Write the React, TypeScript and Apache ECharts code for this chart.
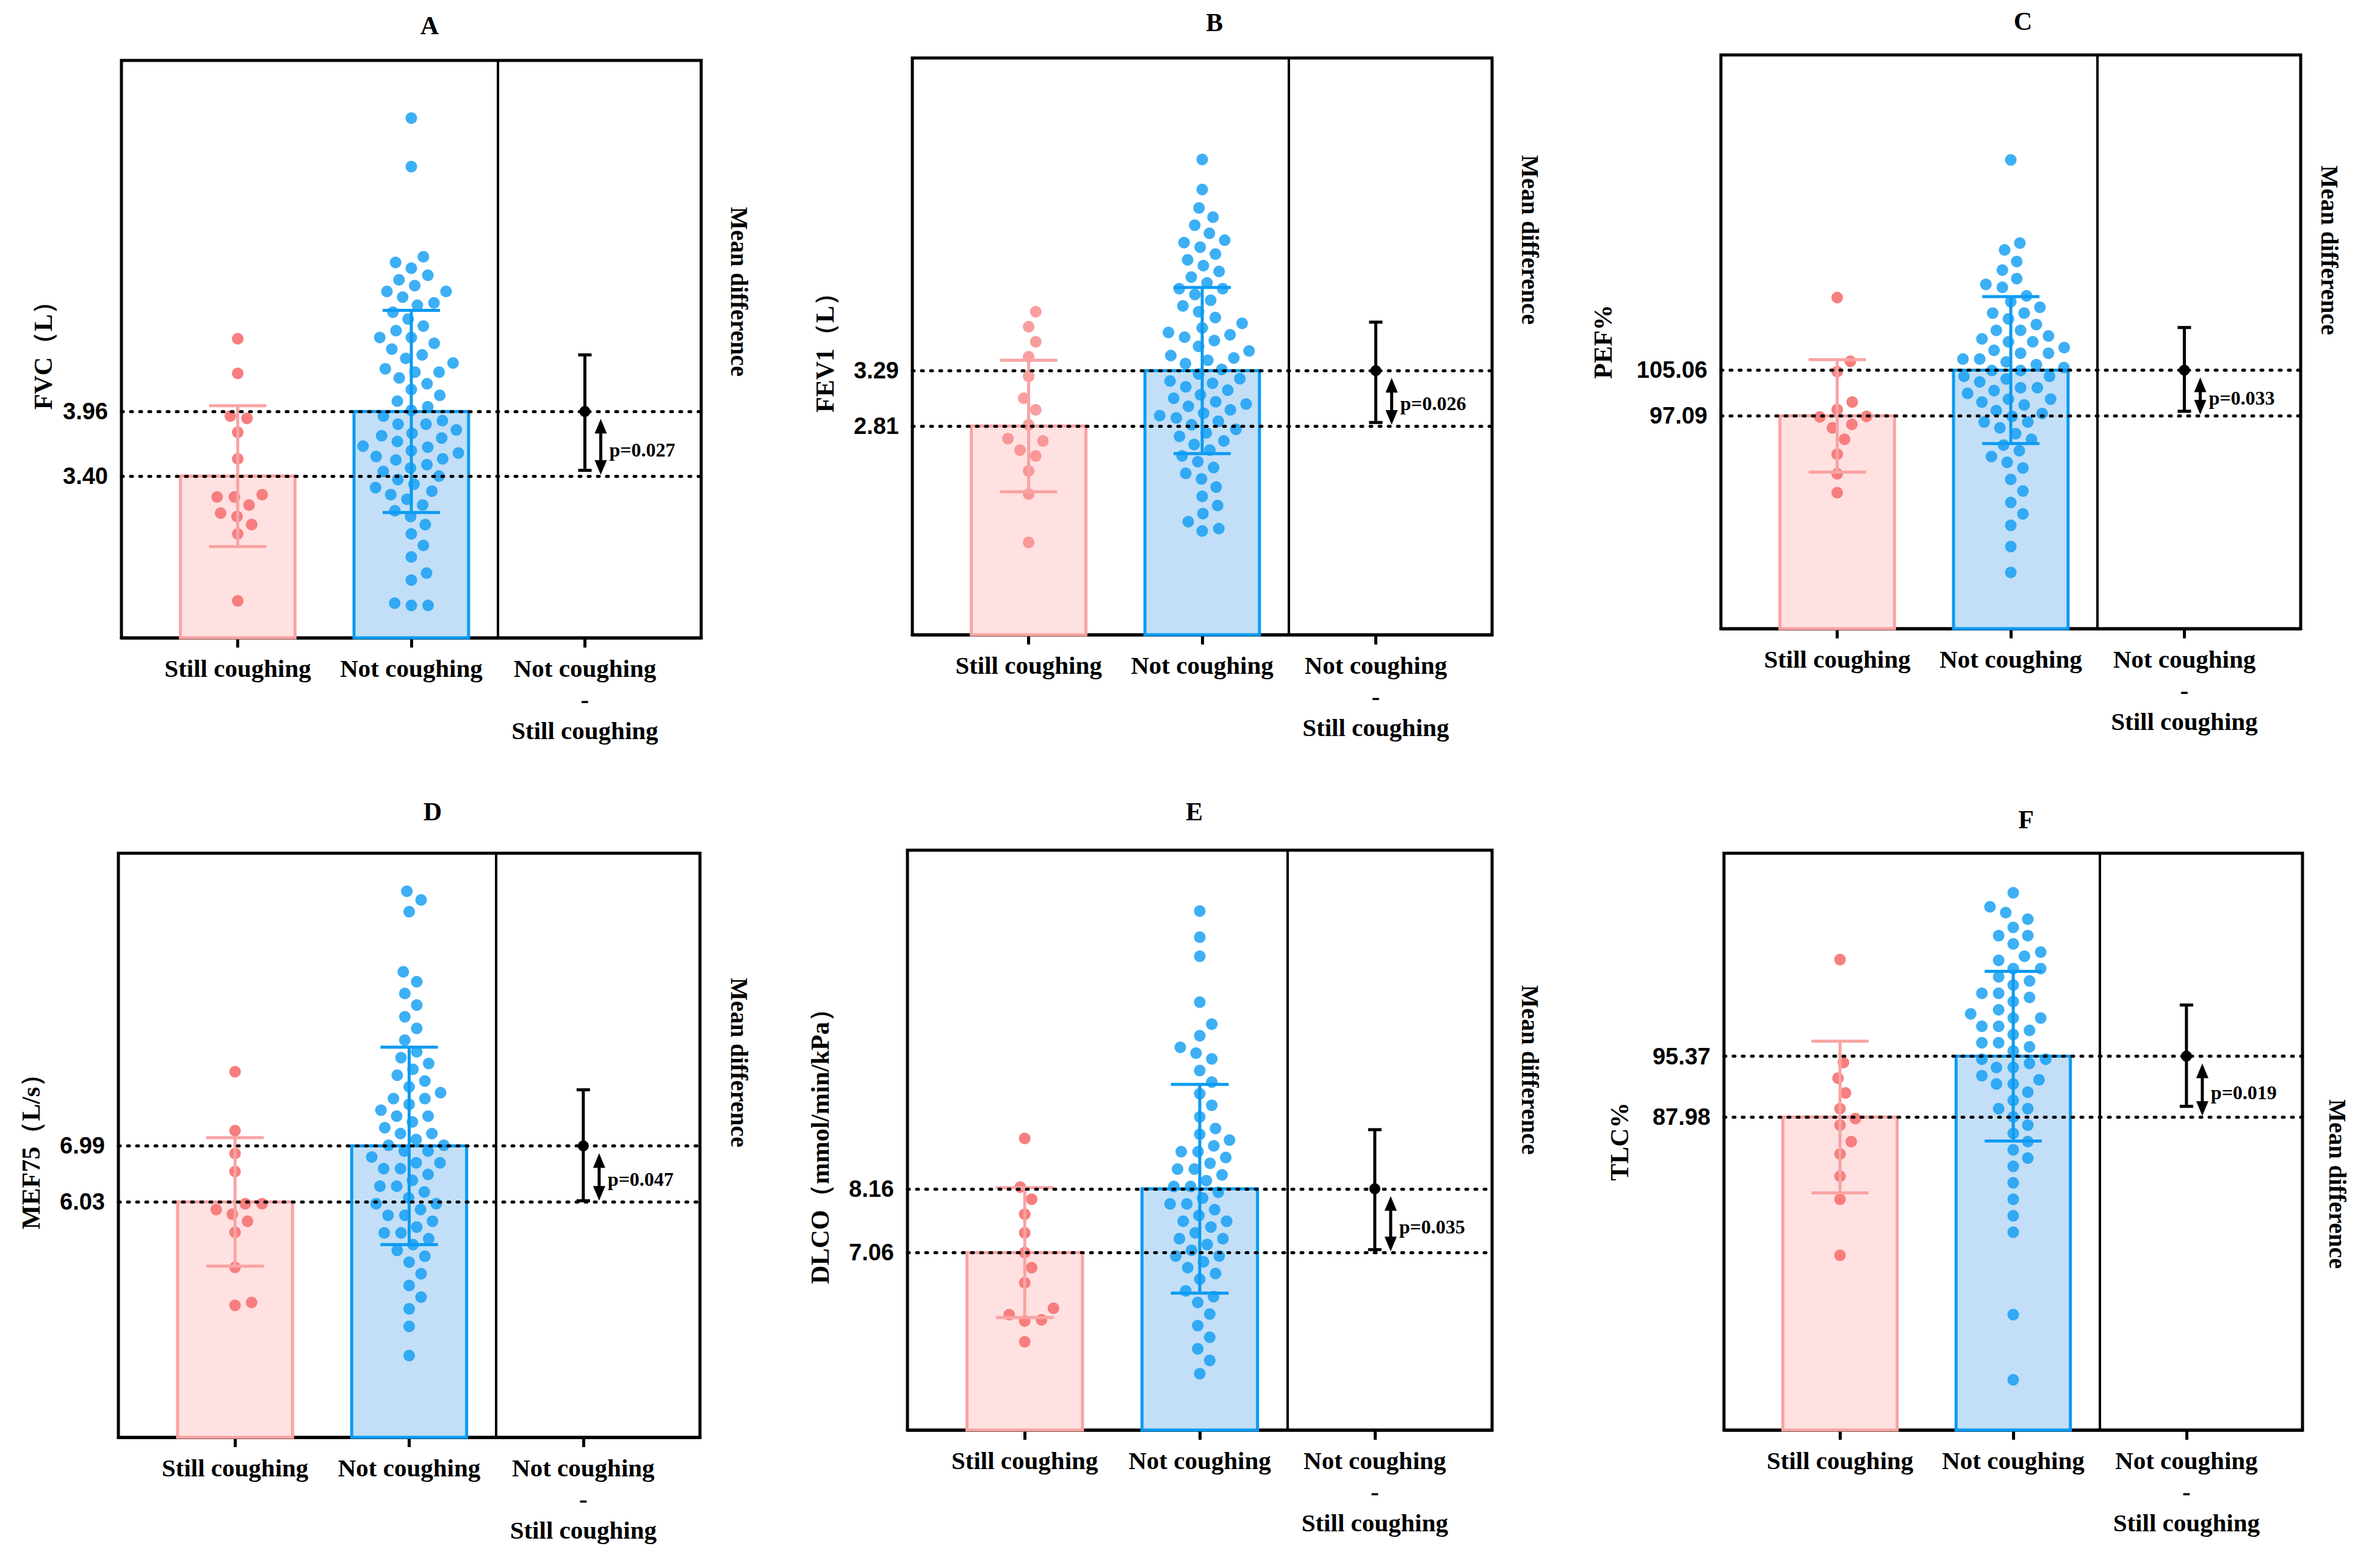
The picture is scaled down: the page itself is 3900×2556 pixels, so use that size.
import { useEffect, useRef } from 'react';
import * as echarts from 'echarts';

const PANELS = ['A', 'B', 'C', 'D', 'E', 'F'];
const Y_NAMES = ['FVC（L）', 'FEV1（L）', 'PEF%', 'MEF75（L/s）', 'DLCO（mmol/min/kPa）', 'TLC%'];
const Y_MIN = [2, 1, 60, 2, 4, 50];
const Y_MAX = [7, 6, 160, 12, 14, 120];
const STILL_MEAN = [3.4, 2.81, 97.09, 6.03, 7.06, 87.98];
const NOT_MEAN = [3.96, 3.29, 105.06, 6.99, 8.16, 95.37];
const STILL_SD = [0.61, 0.57, 9.8, 1.1, 1.12, 9.2];
const NOT_SD = [0.875, 0.72, 12.8, 1.69, 1.8, 10.3];
const MEAN_DIFF = ['0.56', '0.48', '7.96', '0.97', '1.096', '7.38'];
const CI_LO = [0.05, 0.03, 0.8, 0.02, 0.05, 1.3];
const CI_HI = [1.05, 0.9, 15.4, 1.92, 2.12, 13.6];
const P_VALUES = ['p=0.027', 'p=0.026', 'p=0.033', 'p=0.047', 'p=0.035', 'p=0.019'];
const CATEGORIES = ['Still coughing', 'Not coughing', 'Not coughing\n-\nStill coughing'];

const STILL_POINTS = [
  [4.59, 4.29, 3.92, 3.9, 3.78, 3.55, 3.22, 3.22, 3.24, 3.15, 3.08, 3.05, 2.98, 2.9, 2.32],
  [3.8, 3.67, 3.54, 3.41, 3.24, 3.05, 2.95, 2.82, 2.7, 2.68, 2.6, 2.55, 2.42, 2.22, 1.8],
  [117.7, 106.6, 104.8, 99.5, 98.2, 97, 96.9, 95.6, 95, 93, 90.4, 87, 83.7],
  [8.26, 7.25, 6.86, 6.55, 6.0, 6.0, 5.9, 5.82, 5.7, 5.51, 4.91, 4.31, 4.26],
  [9.03, 8.19, 7.98, 7.72, 7.4, 7.06, 6.8, 6.54, 6.1, 5.99, 5.9, 5.88, 5.52],
  [107.1, 94.6, 92.7, 90.9, 89, 87.8, 87, 85, 83.5, 80.8, 78, 71.2],
];

const NOT_POINTS = [
  [6.5, 6.08, 5.3, 5.25, 5.2, 5.14, 5.1, 5.05, 5.0, 5.0, 4.95, 4.9, 4.88, 4.82, 4.76, 4.7, 4.66, 4.6, 4.6, 4.55, 4.5, 4.45,
    4.42, 4.38, 4.33, 4.3, 4.3, 4.25, 4.2, 4.15, 4.1, 4.05, 4.0, 3.97, 3.92, 3.88, 3.85, 3.85, 3.8, 3.77, 3.75, 3.73, 3.7,
    3.66, 3.65, 3.62, 3.6, 3.57, 3.55, 3.54, 3.5, 3.47, 3.44, 3.4, 3.37, 3.33, 3.3, 3.27, 3.24, 3.2, 3.15, 3.1, 3.05,
    2.98, 2.9, 2.8, 2.7, 2.56, 2.5, 2.3, 2.28, 2.28],
  [5.12, 4.86, 4.7, 4.62, 4.55, 4.48, 4.42, 4.4, 4.36, 4.3, 4.25, 4.2, 4.15, 4.1, 4.05, 4.0, 4.0, 3.95, 3.9, 3.85, 3.8,
    3.75, 3.7, 3.66, 3.62, 3.6, 3.58, 3.55, 3.5, 3.46, 3.42, 3.4, 3.38, 3.35, 3.3, 3.26, 3.22, 3.2, 3.18, 3.15, 3.12, 3.08,
    3.05, 3.02, 3.0, 2.98, 2.95, 2.92, 2.9, 2.88, 2.85, 2.82, 2.78, 2.75, 2.72, 2.68, 2.65, 2.6, 2.55, 2.5, 2.45, 2.4,
    2.35, 2.28, 2.2, 2.12, 2.05, 1.98, 1.92, 1.9],
  [141.7, 127.2, 126, 124, 122.5, 121, 120, 119.5, 118, 117, 116, 115, 115, 114, 113, 112, 112, 111, 110.5, 110, 110,
    109, 108.5, 108, 108, 107, 107, 106.5, 106, 105.5, 105, 105, 104, 104, 103.5, 103, 102, 102, 101.5, 101, 100, 100,
    99.5, 99, 98, 97.5, 97, 96, 96, 95, 94, 93, 92, 91, 90, 89, 88, 86, 84, 82, 80, 78, 74.3, 69.8],
  [11.35, 11.2, 11.0, 9.97, 9.8, 9.6, 9.4, 9.2, 9.0, 8.8, 8.6, 8.5, 8.4, 8.3, 8.2, 8.1, 8.0, 7.9, 7.8, 7.8, 7.7, 7.6,
    7.5, 7.5, 7.4, 7.3, 7.2, 7.2, 7.1, 7.0, 7.0, 6.9, 6.9, 6.8, 6.7, 6.7, 6.6, 6.6, 6.5, 6.4, 6.3, 6.3, 6.2, 6.1, 6.0,
    6.0, 5.9, 5.8, 5.8, 5.7, 5.6, 5.5, 5.5, 5.4, 5.3, 5.2, 5.1, 5.0, 4.8, 4.6, 4.4, 4.2, 3.9, 3.4],
  [12.95, 12.5, 12.17, 11.38, 11.0, 10.8, 10.6, 10.5, 10.4, 10.2, 10.0, 9.8, 9.6, 9.4, 9.2, 9.1, 9.0, 8.9, 8.8, 8.8, 8.7,
    8.6, 8.5, 8.5, 8.4, 8.3, 8.2, 8.2, 8.1, 8.0, 7.9, 7.9, 7.8, 7.7, 7.6, 7.6, 7.5, 7.4, 7.3, 7.3, 7.2, 7.1, 7.0, 7.0,
    6.9, 6.8, 6.7, 6.6, 6.4, 6.3, 6.2, 6.0, 5.8, 5.6, 5.4, 5.2, 4.97],
  [115.2, 113.5, 112.8, 112, 111, 110, 110, 109, 108, 107.5, 107, 106, 106, 105, 104.5, 104, 103, 103, 102.5, 102, 101,
    100.5, 100, 100, 99, 99, 98.5, 98, 97, 97, 96.5, 96, 95, 95, 94.5, 94, 94, 93, 92.5, 92, 92, 91, 90, 89, 89, 88, 87,
    86, 85, 84, 83, 82, 80, 78, 76, 74, 64, 56.1],
];

// plot boxes in page pixels: left, top, right, bottom
const BOXES = [
  [199, 99, 1149, 1045],
  [1495, 95, 2445, 1040],
  [2820, 90, 3770, 1030],
  [194, 1398, 1147, 2355],
  [1487, 1393, 2445, 2343],
  [2825, 1398, 3773, 2343],
];
const NAME_GAP = [107, 122, 172, 122, 122, 150];
const TITLE_POS = [[704, 42], [1990, 37], [3315, 35], [709, 1330], [1957, 1330], [3320, 1343]];
const MD_POS = [[1211, 478], [2507, 393], [3817, 410], [1211, 1741], [2507, 1753], [3830, 1940]];

const X_MIN = 0.33;
const X_MAX = 3.67;
const DOT = 19;
const GAP = 27;
const STILL_COLOR = '#F77E7E';
const NOT_COLOR = '#0C9BF2';
const SERIF = '"Liberation Serif", "Times New Roman", serif';
const SANS = '"Liberation Sans", Arial, sans-serif';

function swarm(values: number[], center: number, i: number) {
  const [l, t, r, b] = BOXES[i];
  const pxPerVal = (b - t) / (Y_MAX[i] - Y_MIN[i]);
  const unitPerPx = (X_MAX - X_MIN) / (r - l);
  const placed: { x: number; y: number }[] = [];
  const out: number[][] = [];
  [...values].sort((a, c) => a - c).forEach((v) => {
    const y = v * pxPerVal;
    const near = placed.filter((p) => Math.abs(p.y - y) < GAP);
    const cands = [0];
    near.forEach((p) => {
      const dx = Math.sqrt(GAP * GAP - (p.y - y) ** 2) + 0.5;
      cands.push(p.x + dx, p.x - dx);
    });
    cands.sort((a, c) => Math.abs(a) - Math.abs(c));
    const x = cands.find((cx) => near.every((p) => (p.x - cx) ** 2 + (p.y - y) ** 2 >= GAP * GAP - 1)) ?? 0;
    placed.push({ x, y });
    out.push([center + x * unitPerPx, v]);
  });
  return out;
}

export default function App() {
  const chartRef = useRef<HTMLDivElement>(null);

  useEffect(() => {
    if (!chartRef.current) return;
    document.body.style.margin = '0';
    const chart = echarts.init(chartRef.current, undefined, { renderer: 'svg' });

    const grid: any[] = [];
    const xAxis: any[] = [];
    const yAxis: any[] = [];
    const series: any[] = [];
    const graphic: any[] = [];

    PANELS.forEach((p, i) => {
      const [l, t, r, b] = BOXES[i];
      grid.push({
        left: l, top: t, width: r - l, height: b - t,
        show: true, borderColor: '#000', borderWidth: 5, backgroundColor: 'transparent',
      });
      xAxis.push({
        type: 'value', gridIndex: i, min: X_MIN, max: X_MAX,
        splitLine: { show: false },
        axisLine: { lineStyle: { color: '#000', width: 5 } },
        axisTick: { customValues: [1, 2, 3], length: 16, lineStyle: { color: '#000', width: 5 } },
        axisLabel: {
          customValues: [1, 2, 3],
          formatter: (v: number) => CATEGORIES[Math.round(v) - 1] ?? '',
          fontFamily: SERIF, fontWeight: 'bold', fontSize: 41, color: '#000',
          lineHeight: 51, margin: 24, verticalAlign: 'top',
        },
      });
      yAxis.push({
        type: 'value', gridIndex: i, min: Y_MIN[i], max: Y_MAX[i],
        splitLine: { show: false }, axisTick: { show: false }, axisLabel: { show: false },
        axisLine: { show: false },
        name: Y_NAMES[i], nameLocation: 'middle', nameGap: NAME_GAP[i],
        nameTextStyle: { fontFamily: SERIF, fontWeight: 'bold', fontSize: 42, color: '#000' },
      });

      const lblStyle = { fontFamily: SANS, fontWeight: 'bold', fontSize: 38, color: '#000' };
      series.push({
        type: 'line', xAxisIndex: i, yAxisIndex: i, data: [], z: 1,
        markLine: {
          silent: true, symbol: 'none', animation: false,
          data: [
            { xAxis: 2.5, lineStyle: { type: 'solid', color: '#000', width: 4 }, label: { show: false } },
            { yAxis: NOT_MEAN[i], lineStyle: { type: [3, 12], color: '#000', width: 5, cap: 'round' },
              label: { position: 'start', distance: 22, formatter: NOT_MEAN[i].toFixed(2), ...lblStyle } },
            { yAxis: STILL_MEAN[i], lineStyle: { type: [3, 12], color: '#000', width: 5, cap: 'round' },
              label: { position: 'start', distance: 22, formatter: STILL_MEAN[i].toFixed(2), ...lblStyle } },
            { yAxis: NOT_MEAN[i], lineStyle: { opacity: 0 },
              label: { position: 'end', distance: 62, formatter: MEAN_DIFF[i], ...lblStyle } },
          ],
        },
      });

      // bars
      series.push({
        type: 'custom', xAxisIndex: i, yAxisIndex: i, z: 2,
        data: [[1, STILL_MEAN[i], 0], [2, NOT_MEAN[i], 1]],
        renderItem: (_params: any, api: any) => {
          const x = api.value(0), m = api.value(1), g = api.value(2);
          const tl = api.coord([x - 0.33, m]);
          const br = api.coord([x + 0.33, Y_MIN[i]]);
          return {
            type: 'rect',
            shape: { x: tl[0], y: tl[1], width: br[0] - tl[0], height: br[1] - tl[1] },
            style: { fill: g === 0 ? '#FFE1E1' : '#C2DFF7', stroke: g === 0 ? '#F9A3A3' : '#0C9BF2', lineWidth: 5 },
          };
        },
      });

      series.push({
        type: 'scatter', xAxisIndex: i, yAxisIndex: i, z: 3, symbolSize: DOT,
        itemStyle: { color: STILL_COLOR, opacity: i === 1 ? 0.75 : 1 },
        data: swarm(STILL_POINTS[i], 1, i),
      });
      series.push({
        type: 'scatter', xAxisIndex: i, yAxisIndex: i, z: 3, symbolSize: DOT,
        itemStyle: { color: NOT_COLOR },
        data: swarm(NOT_POINTS[i], 2, i),
      });

      // SD error bars
      series.push({
        type: 'custom', xAxisIndex: i, yAxisIndex: i, z: 4,
        data: [[1, STILL_MEAN[i], STILL_SD[i], 0], [2, NOT_MEAN[i], NOT_SD[i], 1]],
        renderItem: (_params: any, api: any) => {
          const x = api.value(0), m = api.value(1), sd = api.value(2), g = api.value(3);
          const hi = api.coord([x, m + sd]);
          const lo = api.coord([x, m - sd]);
          const cw = api.size([0.165, 0])[0];
          const ls = { stroke: g === 0 ? '#F9A3A3' : '#0C9BF2', lineWidth: 5 };
          return {
            type: 'group',
            children: [
              { type: 'line', shape: { x1: hi[0], y1: hi[1], x2: lo[0], y2: lo[1] }, style: ls },
              { type: 'line', shape: { x1: hi[0] - cw, y1: hi[1], x2: hi[0] + cw, y2: hi[1] }, style: ls },
              { type: 'line', shape: { x1: lo[0] - cw, y1: lo[1], x2: lo[0] + cw, y2: lo[1] }, style: ls },
            ],
          };
        },
      });

      // mean difference with CI and arrow
      series.push({
        type: 'custom', xAxisIndex: i, yAxisIndex: i, z: 4,
        data: [[3, STILL_MEAN[i], NOT_MEAN[i], CI_LO[i], CI_HI[i]]],
        renderItem: (_params: any, api: any) => {
          const lm = api.value(1), um = api.value(2);
          const pt = api.coord([3, um]);
          const lo = api.coord([3, lm + api.value(3)]);
          const hi = api.coord([3, lm + api.value(4)]);
          const low = api.coord([3, lm]);
          const ax = pt[0] + 26;
          const ls = { stroke: '#000', lineWidth: 5 };
          const y1 = pt[1] + 12, y2 = low[1] - 2;
          return {
            type: 'group',
            children: [
              { type: 'line', shape: { x1: hi[0], y1: hi[1], x2: lo[0], y2: lo[1] }, style: ls },
              { type: 'line', shape: { x1: hi[0] - 11, y1: hi[1], x2: hi[0] + 11, y2: hi[1] }, style: ls },
              { type: 'line', shape: { x1: lo[0] - 11, y1: lo[1], x2: lo[0] + 11, y2: lo[1] }, style: ls },
              { type: 'circle', shape: { cx: pt[0], cy: pt[1], r: 9 }, style: { fill: '#000' } },
              { type: 'line', shape: { x1: ax, y1: y1 + 16, x2: ax, y2: y2 - 16 }, style: ls },
              { type: 'polygon', shape: { points: [[ax, y1], [ax - 10, y1 + 24], [ax + 10, y1 + 24]] }, style: { fill: '#000' } },
              { type: 'polygon', shape: { points: [[ax, y2], [ax - 10, y2 - 24], [ax + 10, y2 - 24]] }, style: { fill: '#000' } },
              {
                type: 'text', x: ax + 14, y: y1 + (y2 - y1) * 0.55,
                style: { text: P_VALUES[i], fill: '#000', font: `bold 32px ${SERIF}`, verticalAlign: 'middle' },
              },
            ],
          };
        },
      });

      graphic.push({
        type: 'text', x: TITLE_POS[i][0], y: TITLE_POS[i][1],
        style: { text: p, fill: '#000', font: `bold 42px ${SERIF}`, align: 'center', verticalAlign: 'middle' },
      });
      graphic.push({
        type: 'text', x: MD_POS[i][0], y: MD_POS[i][1], rotation: -Math.PI / 2,
        style: { text: 'Mean difference', fill: '#000', font: `bold 40px ${SERIF}`, align: 'center', verticalAlign: 'middle' },
      });
    });

    chart.setOption({ animation: false, backgroundColor: '#fff', grid, xAxis, yAxis, series, graphic });

    return () => {
      chart.dispose();
    };
  }, []);

  return <div ref={chartRef} style={{ width: '3900px', height: '2556px' }}></div>;
}
